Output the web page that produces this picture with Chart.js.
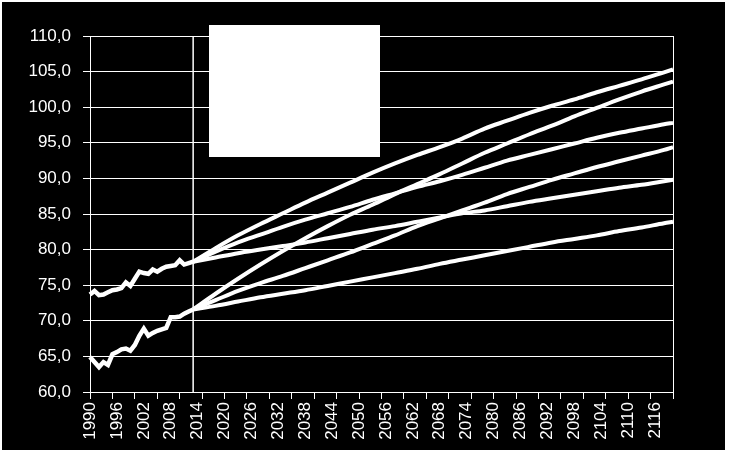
<!DOCTYPE html>
<html>
<head>
<meta charset="utf-8">
<script src="https://cdn.jsdelivr.net/npm/chart.js@4"></script>
<style>
  html, body { margin: 0; padding: 0; background: #fff; }
  #frame { position: absolute; left: 2px; top: 2px; width: 723px; height: 448px; background: #000; }
  #legendBox { position: absolute; left: 207px; top: 23px; width: 171px; height: 132px; background: #fff; }
</style>
</head>
<body>
<div id="frame">
  <canvas id="lifeChart"></canvas>
  <div id="legendBox"></div>
</div>
<script>
// Categories: one per year
const firstYear = 1990;
const lastYear = 2120;
const years = [];
for (let y = firstYear; y <= lastYear; y++) years.push(String(y));

// Observed values 1990-2013
const histUpper = [73.7, 74.2, 73.6, 73.7, 74.0, 74.3, 74.4, 74.6, 75.4, 74.9, 75.9, 76.9,
                   76.7, 76.6, 77.2, 76.9, 77.3, 77.6, 77.7, 77.8, 78.5, 77.9, 78.1, 78.3];
const histLower = [64.9, 64.2, 63.5, 64.2, 63.8, 65.3, 65.6, 66.0, 66.1, 65.8, 66.6, 67.9,
                   68.9, 67.9, 68.3, 68.6, 68.8, 69.0, 70.5, 70.5, 70.6, 71.0, 71.3, 71.6];

// Projection years and scenarios
const projYears = [2013, 2018, 2023, 2028, 2033, 2038, 2043, 2048, 2053, 2058, 2063, 2068,
                   2073, 2078, 2083, 2088, 2093, 2098, 2103, 2108, 2113, 2118, 2120];
const upperHigh = [78.3, 80.2, 82.0, 83.6, 85.1, 86.6, 88.0, 89.4, 90.8, 92.1, 93.3, 94.4,
                   95.6, 97.0, 98.1, 99.2, 100.2, 101.1, 102.1, 103.0, 103.9, 104.9, 105.3];
const upperMid  = [78.3, 79.7, 81.0, 82.1, 83.2, 84.2, 85.1, 86.0, 87.0, 87.9, 88.8, 89.6,
                   90.5, 91.5, 92.5, 93.3, 94.1, 94.9, 95.7, 96.4, 97.0, 97.6, 97.8];
const upperLow  = [78.3, 78.9, 79.5, 80.0, 80.5, 81.0, 81.6, 82.2, 82.8, 83.3, 83.9, 84.5,
                   85.1, 85.5, 86.1, 86.7, 87.2, 87.7, 88.2, 88.7, 89.1, 89.6, 89.8];
const lowerHigh = [71.6, 73.8, 75.9, 77.9, 79.8, 81.6, 83.3, 84.9, 86.3, 87.8, 89.2, 90.6,
                   92.1, 93.6, 94.9, 96.2, 97.4, 98.7, 99.9, 101.1, 102.2, 103.2, 103.6];
const lowerMid  = [71.6, 72.9, 74.2, 75.3, 76.3, 77.4, 78.5, 79.6, 80.8, 82.0, 83.3, 84.4,
                   85.5, 86.6, 87.8, 88.8, 89.8, 90.7, 91.6, 92.4, 93.2, 94.0, 94.4];
const lowerLow  = [71.6, 72.1, 72.7, 73.3, 73.8, 74.3, 74.9, 75.5, 76.1, 76.7, 77.3, 78.0,
                   78.6, 79.2, 79.8, 80.4, 81.0, 81.5, 82.0, 82.6, 83.1, 83.7, 83.9];

// Year where projections start (vertical marker)
const markerYear = '2013';
const yMin = 60, yMax = 110, yStep = 5;

const font = { family: '"Liberation Sans", Arial, sans-serif', size: 17 };

function projSeries(values) {
    return values.map((v, i) => ({ x: String(projYears[i]), y: v }));
}

function lineSet(data, smooth, width) {
    return {
        data: data,
        borderColor: '#fff',
        borderWidth: width,
        pointRadius: 0,
        fill: false,
        cubicInterpolationMode: smooth ? 'monotone' : 'default',
        tension: 0
    };
}

const datasets = [
    lineSet(projSeries(upperHigh), true, 4),
    lineSet(projSeries(upperMid), true, 4),
    lineSet(projSeries(upperLow), true, 4),
    lineSet(projSeries(lowerHigh), true, 4),
    lineSet(projSeries(lowerMid), true, 4),
    lineSet(projSeries(lowerLow), true, 4),
    lineSet(histUpper, false, 4.5),
    lineSet(histLower, false, 4.5),
    {
        data: [{ x: markerYear, y: yMin }, { x: markerYear, y: yMax }],
        borderColor: '#fff',
        borderWidth: 1.5,
        pointRadius: 0,
        fill: false
    }
];

new Chart(document.getElementById('lifeChart'), {
    type: 'line',
    data: { labels: years, datasets: datasets },
    options: {
        responsive: true,
        maintainAspectRatio: false,
        animation: false,
        layout: { padding: { left: 0, right: 52, top: 34, bottom: 0 } },
        plugins: { legend: { display: false }, tooltip: { enabled: false } },
        scales: {
            x: {
                type: 'category',
                offset: false,
                afterFit: scale => { scale.height = 58; },
                border: { display: true, color: '#fff', width: 1 },
                grid: {
                    drawOnChartArea: true,
                    lineWidth: 1,
                    tickLength: 7,
                    color: ctx => ctx.index === years.length - 1 ? '#fff' : 'rgba(0,0,0,0)',
                    tickColor: ctx => ctx.index % 5 === 0 ? '#fff' : 'rgba(0,0,0,0)'
                },
                ticks: {
                    autoSkip: false,
                    minRotation: 90,
                    maxRotation: 90,
                    padding: 3,
                    color: '#fff',
                    font: font,
                    callback: function(value, index) {
                        return index % 6 === 0 ? this.getLabelForValue(value) : '';
                    }
                }
            },
            y: {
                min: yMin,
                max: yMax,
                afterFit: scale => { scale.width = 88; },
                border: { display: true, color: '#fff', width: 1 },
                grid: { color: '#fff', lineWidth: 1, tickLength: 7 },
                ticks: {
                    stepSize: yStep,
                    padding: 12,
                    color: '#fff',
                    font: font,
                    callback: v => v.toFixed(1).replace('.', ',')
                }
            }
        }
    }
});
</script>
</body>
</html>
